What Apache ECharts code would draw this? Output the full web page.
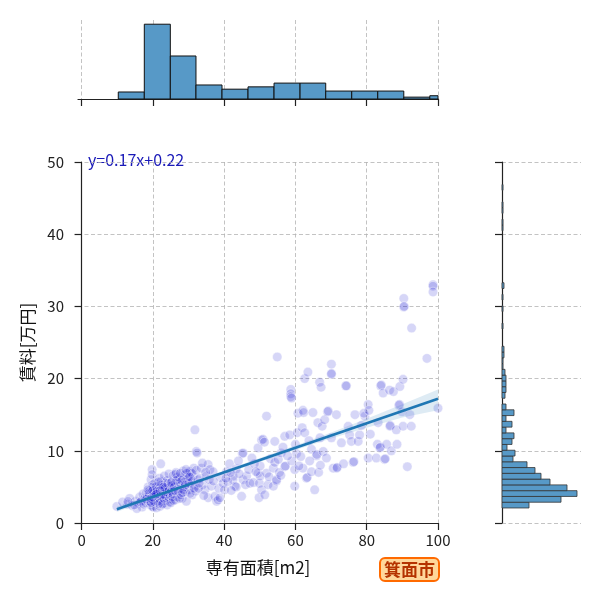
<!DOCTYPE html>
<html lang="ja">
  <head>
    <meta charset="UTF-8" />
    <title>箕面市 専有面積と賃料</title>
    <script src="https://cdn.jsdelivr.net/npm/echarts@6/dist/echarts.min.js"></script>
    <style>
      body {
        margin: 0;
        padding: 0;
        background: #fff;
      }
      #chart {
        width: 600px;
        height: 600px;
      }
    </style>
  </head>
  <body>
    <div id="chart"></div>

    <script>
      // 散布図のデータ [専有面積 m2, 賃料 万円]
      var listings = [
        // 10〜18m2
        [9.9, 2.3], [12.9, 2.6], [13.5, 3.4], [14.2, 2.4], [15.0, 3.0], [16.0, 2.7],
        [16.3, 3.6], [17.0, 2.2], [17.2, 4.0], [15.5, 2.0], [11.5, 2.9], [16.8, 3.1],
        [14.8, 2.5], [16.5, 2.9], [13.0, 3.0], [17.4, 2.6],
        // 18〜25m2
        [17.8, 3.5], [18.0, 2.8], [18.2, 4.2], [18.5, 3.0], [18.7, 5.0], [19.0, 3.8],
        [19.1, 4.5], [19.3, 2.5], [19.5, 6.0], [19.6, 3.7], [19.8, 2.3], [19.8, 7.4],
        [19.8, 6.7], [19.9, 5.3], [20.0, 3.2], [20.0, 4.0], [20.1, 2.2], [20.2, 4.8],
        [20.3, 3.5], [20.5, 5.5], [20.6, 2.9], [20.8, 4.3], [21.0, 2.1], [21.0, 3.7],
        [21.2, 5.0], [21.5, 4.6], [21.6, 3.2], [21.8, 6.2], [22.0, 4.0], [22.0, 2.3],
        [22.2, 8.2], [22.3, 5.8], [22.4, 3.0], [22.5, 4.4], [22.7, 3.6], [22.8, 5.2],
        [23.0, 2.7], [23.0, 4.7], [23.2, 6.5], [23.4, 3.9], [23.5, 5.5], [23.6, 3.1],
        [23.8, 4.6], [24.0, 2.5], [24.0, 5.9], [24.2, 3.7], [24.3, 4.2], [24.5, 6.8],
        [24.6, 3.3], [24.7, 5.1], [24.8, 2.9], [19.2, 3.0], [20.4, 3.9], [21.3, 4.1],
        [21.9, 3.4], [22.6, 4.9], [23.3, 4.3], [24.4, 4.0], [18.4, 3.6], [20.7, 4.6],
        [21.7, 2.7], [23.7, 3.5], [24.1, 4.8],
        [18.1, 3.3], [18.9, 4.1], [19.4, 3.4], [19.7, 4.4], [20.0, 5.0], [20.2, 3.0],
        [20.5, 3.8], [20.9, 5.1], [21.1, 4.4], [21.4, 3.0], [21.8, 4.8], [22.1, 3.7],
        [22.4, 5.3], [22.9, 4.0], [23.1, 3.4], [23.5, 4.9], [23.9, 4.3], [24.2, 5.5],
        [24.6, 4.5], [20.3, 4.2], [21.6, 5.7], [22.7, 2.6], [19.9, 3.6], [24.9, 3.8],
        [20.0, 4.5], [22.0, 4.5], [21.0, 4.0], [23.0, 5.0], [19.5, 2.8], [18.6, 4.6],
        // 25〜32m2
        [25.0, 2.8], [25.2, 4.4], [25.4, 5.8], [25.5, 3.6], [25.7, 6.6], [25.9, 4.9],
        [26.2, 5.5], [26.3, 3.2], [26.5, 7.0], [26.7, 4.1], [26.9, 3.6], [27.0, 6.0],
        [27.3, 4.7], [27.6, 6.2], [27.8, 5.2], [28.0, 4.8], [28.2, 3.4], [28.5, 7.2],
        [28.7, 5.6], [29.0, 6.7], [29.2, 4.3], [29.4, 3.0], [29.6, 5.9], [29.9, 5.8],
        [30.0, 7.1], [30.2, 4.6], [30.4, 7.1], [30.6, 6.0], [30.8, 5.2], [31.0, 3.9],
        [31.3, 6.5], [31.5, 7.6], [31.8, 5.1], [31.8, 12.9], [32.0, 4.4], [26.0, 5.0],
        [27.2, 5.4], [28.4, 6.1], [29.8, 6.4], [30.9, 6.9], [25.6, 4.0], [26.8, 6.4],
        [27.9, 3.9], [28.9, 5.0],
        [25.3, 5.2], [25.8, 3.1], [26.1, 4.5], [26.6, 5.9], [27.1, 4.4], [27.5, 3.4],
        [28.1, 5.9], [28.6, 4.6], [29.1, 5.3], [29.5, 6.9], [30.1, 5.5], [30.5, 4.1],
        [31.1, 5.8], [31.6, 4.8], [26.4, 6.8], [27.7, 6.9], [29.3, 7.4], [25.1, 5.6],
        [28.3, 4.2], [30.3, 6.4],
        // 32〜39m2
        [32.2, 9.9], [32.4, 9.7], [32.2, 7.3], [32.6, 6.0], [33.2, 6.2], [33.6, 7.6],
        [34.0, 5.3], [34.6, 4.6], [35.0, 6.5], [35.5, 8.1], [35.5, 3.5], [36.0, 7.4],
        [36.4, 5.1], [36.9, 7.1], [37.4, 3.7], [37.9, 3.0], [38.3, 3.2], [38.8, 3.5],
        [39.0, 6.3], [33.9, 8.3], [34.8, 7.0], [32.8, 4.8],
        [33.0, 5.5], [35.8, 6.0], [37.0, 5.8], [38.5, 4.8], [34.3, 3.8],
        // 39〜47m2
        [39.7, 5.5], [40.1, 4.6], [40.7, 7.1], [41.5, 8.2], [42.5, 6.5], [42.5, 6.0],
        [43.0, 5.1], [43.4, 7.5], [43.4, 5.0], [44.9, 3.7], [45.1, 9.6], [45.3, 9.7],
        [45.3, 6.0], [46.3, 6.5], [44.0, 8.6], [41.0, 5.7],
        [40.5, 6.2], [42.0, 4.5], [44.2, 6.8], [46.0, 5.3], [41.8, 7.0],
        // 47〜54m2
        [46.9, 7.4], [47.2, 5.5], [48.2, 5.6], [49.5, 10.4], [49.5, 6.9], [49.8, 3.5],
        [49.9, 5.5], [50.1, 6.5], [50.1, 7.9], [50.5, 11.5], [50.5, 4.6], [50.9, 11.6],
        [51.3, 11.2], [51.4, 3.9], [51.9, 14.8], [51.9, 6.9], [52.3, 5.3], [53.0, 8.9],
        [53.8, 7.6], [53.8, 5.1], [48.5, 8.2], [47.8, 9.0], [48.9, 7.1], [52.6, 6.4],
        // 54〜61m2
        [54.2, 11.3], [54.2, 8.4], [54.7, 5.8], [54.7, 6.0], [54.9, 23.0], [55.2, 8.8],
        [55.5, 7.0], [56.0, 9.7], [57.0, 12.0], [57.0, 7.8], [57.2, 7.9], [58.4, 12.2],
        [58.7, 18.5], [58.7, 17.9], [58.7, 17.5], [58.9, 17.3], [59.8, 7.4], [59.8, 5.1],
        [60.0, 10.9], [60.3, 9.6], [60.7, 15.2], [60.5, 12.5], [56.5, 10.5], [59.0, 8.6],
        [55.9, 6.6], [57.8, 9.3],
        // 61〜69m2
        [61.9, 13.2], [62.1, 15.6], [62.3, 15.3], [62.1, 7.6], [62.6, 12.5], [62.6, 20.0],
        [63.1, 6.2], [63.3, 6.3], [63.5, 20.9], [64.5, 10.2], [64.5, 7.1], [64.9, 15.3],
        [65.4, 4.6], [65.9, 9.3], [66.0, 9.5], [66.3, 13.9], [66.8, 19.5], [67.2, 18.8],
        [67.5, 13.4], [67.8, 9.9], [68.2, 14.3], [63.8, 11.4], [66.5, 7.0], [61.5, 9.2],
        [61.0, 7.9], [64.0, 8.6], [66.9, 11.8], [67.0, 8.0],
        // 69〜76m2
        [68.7, 9.0], [69.0, 15.4], [69.2, 15.5], [70.1, 22.0], [70.1, 20.6], [70.1, 20.7],
        [70.1, 11.8], [70.6, 7.6], [71.5, 15.0], [71.6, 7.6], [71.7, 7.7], [72.9, 11.1],
        [74.1, 19.0], [74.3, 19.0], [74.8, 13.4], [75.2, 12.2], [75.7, 11.3], [73.5, 8.2],
        // 76〜83m2
        [76.2, 8.4], [76.4, 8.5], [76.7, 15.0], [77.6, 11.3], [78.0, 12.2], [78.5, 13.5],
        [79.5, 14.8], [79.2, 15.2], [80.4, 16.4], [80.4, 9.0], [80.6, 15.6], [81.0, 12.3],
        [82.7, 9.0], [83.0, 10.9],
        // 83〜90m2
        [83.2, 13.9], [83.7, 10.4], [83.8, 10.5], [83.9, 19.0], [84.1, 19.1], [84.6, 18.0],
        [85.0, 8.8], [85.2, 8.9], [85.6, 10.9], [86.4, 18.4], [86.5, 13.4], [86.6, 13.5],
        [86.9, 10.0], [87.5, 18.2], [88.3, 12.9], [88.5, 10.9], [89.0, 16.3], [89.2, 16.4],
        [89.3, 18.9], [89.9, 15.4], [90.2, 19.9], [90.2, 13.4],
        // 90m2〜
        [90.4, 31.1], [90.4, 29.9], [90.5, 30.0], [91.4, 7.8], [92.1, 15.0], [92.5, 13.4],
        [92.6, 27.0], [96.9, 22.8], [98.6, 33.0], [98.6, 32.8], [98.6, 32.0], [100, 15.9]
      ];

      // 回帰直線 y=0.17x+0.22 と信頼区間
      var regX = [9.9, 100];
      var regY = [1.9, 17.2];
      var ciX = [10, 20, 30, 40, 50, 60, 70, 80, 90, 100];
      var ciLow = [1.55, 3.35, 5.1, 6.8, 8.45, 10.1, 11.7, 13.2, 14.6, 15.6];
      var ciHigh = [2.3, 3.9, 5.55, 7.25, 9.0, 10.75, 12.55, 14.45, 16.45, 18.5];

      // 上側ヒストグラム（専有面積）
      var areaEdges = [10.3, 17.6, 24.9, 32.1, 39.4, 46.7, 54.0, 61.3, 68.5, 75.8, 83.1, 90.4, 97.7, 104.9];
      var areaCounts = [15, 160, 92, 30, 21, 26, 34, 34, 17, 17, 17, 4, 7];

      // 右側ヒストグラム（賃料）
      var rentBinStart = 2.08;
      var rentBinWidth = 0.8;
      var rentCounts = [
        27, 59, 75, 65, 48, 39, 33, 25, 11, 13,
        5, 10, 12, 4, 10, 4, 12, 4, 0, 3,
        4, 4, 4, 3, 1, 1, 2, 2, 0, 0,
        0, 1, 0, 0, 1, 0, 1, 0, 2, 0,
        0, 0, 0, 0, 0, 0, 0, 0, 1, 1,
        0, 1, 1, 0, 0, 1
      ];

      var xTicks = [0, 20, 40, 60, 80, 100];
      var cityName = '箕面市';
      var equation = 'y=0.17x+0.22';

      var font = '"Noto Sans CJK JP", "Noto Sans", sans-serif';
      var barFill = '#5799c7';
      var gridLine = { show: true, lineStyle: { color: '#b4b4b4', width: 0.8, type: [4, 2.5] } };
      var blackLine = { show: true, lineStyle: { color: '#222', width: 1.2 } };

      var areaRows = areaCounts.map(function (c, i) {
        return [areaEdges[i], areaEdges[i + 1], c];
      });
      var rentRows = rentCounts.map(function (c, i) {
        var lo = rentBinStart + i * rentBinWidth;
        return [lo, lo + rentBinWidth, c];
      });
      var ciRows = ciX.map(function (x, i) {
        return [x, ciLow[i], ciHigh[i]];
      });
      var regRows = regX.map(function (x, i) {
        return [x, regY[i]];
      });

      function clipTo(params, shape) {
        return echarts.graphic.clipRectByRect(shape, {
          x: params.coordSys.x,
          y: params.coordSys.y,
          width: params.coordSys.width,
          height: params.coordSys.height
        });
      }

      var chart = echarts.init(document.getElementById('chart'));
      var option = {
        animation: false,
        textStyle: { fontFamily: font },
        title: {
          text: cityName,
          left: 380,
          top: 558,
          padding: [3, 4],
          backgroundColor: '#ffd79a',
          borderColor: '#ff6a00',
          borderWidth: 2,
          borderRadius: 5,
          textStyle: { fontSize: 17, fontWeight: 'bold', color: '#b53300', fontFamily: font }
        },
        graphic: [
          {
            type: 'text',
            left: 88,
            top: 152,
            style: { text: equation, fontSize: 16, fill: '#1a1ab8', fontFamily: font }
          }
        ],
        grid: [
          { left: 78, top: 162, width: 360, height: 361, outerBoundsMode: 'none', containLabel: false },
          { left: 78, top: 20, width: 360, height: 79, outerBoundsMode: 'none', containLabel: false },
          { left: 502, top: 162, width: 79, height: 361, outerBoundsMode: 'none', containLabel: false }
        ],
        xAxis: [
          {
            type: 'value',
            gridIndex: 0,
            min: -1,
            max: 100,
            name: '専有面積[m2]',
            nameLocation: 'middle',
            nameGap: 36,
            nameTextStyle: { fontSize: 17, color: '#111', fontFamily: font },
            axisLine: blackLine,
            axisTick: { show: true, length: 7, lineStyle: { color: '#222', width: 1.2 }, customValues: xTicks },
            axisLabel: { fontSize: 15, color: '#222', margin: 10, customValues: xTicks },
            splitLine: gridLine
          },
          {
            type: 'value',
            gridIndex: 1,
            min: -1,
            max: 100,
            axisLine: blackLine,
            axisTick: { show: true, length: 7, lineStyle: { color: '#222', width: 1.2 }, customValues: xTicks },
            axisLabel: { show: false },
            splitLine: gridLine
          },
          {
            type: 'value',
            gridIndex: 2,
            min: 0,
            max: 79,
            show: false
          }
        ],
        yAxis: [
          {
            type: 'value',
            gridIndex: 0,
            min: 0,
            max: 50,
            interval: 10,
            name: '賃料[万円]',
            nameLocation: 'middle',
            nameRotate: 90,
            nameGap: 38,
            nameTextStyle: { fontSize: 17, color: '#111', fontFamily: font },
            axisLine: blackLine,
            axisTick: { show: true, length: 7, lineStyle: { color: '#222', width: 1.2 } },
            axisLabel: { fontSize: 15, color: '#222', margin: 14 },
            splitLine: gridLine
          },
          {
            type: 'value',
            gridIndex: 1,
            min: 0,
            max: 169,
            show: false
          },
          {
            type: 'value',
            gridIndex: 2,
            min: 0,
            max: 50,
            interval: 10,
            axisLine: blackLine,
            axisTick: { show: true, length: 7, lineStyle: { color: '#222', width: 1.2 } },
            axisLabel: { show: false },
            splitLine: gridLine
          }
        ],
        series: [
          {
            type: 'scatter',
            xAxisIndex: 0,
            yAxisIndex: 0,
            data: listings,
            symbolSize: 9.5,
            clip: true,
            itemStyle: {
              color: 'rgba(0, 0, 205, 0.2)',
              borderColor: 'rgba(255, 255, 255, 0.5)',
              borderWidth: 1
            },
            z: 2
          },
          {
            type: 'custom',
            xAxisIndex: 0,
            yAxisIndex: 0,
            data: ciRows,
            encode: { x: 0, y: [1, 2] },
            renderItem: function (params, api) {
              if (params.dataIndex !== 0) return null;
              var pts = [];
              for (var i = 0; i < ciX.length; i++) pts.push(api.coord([ciX[i], ciLow[i]]));
              for (var j = ciX.length - 1; j >= 0; j--) pts.push(api.coord([ciX[j], ciHigh[j]]));
              return { type: 'polygon', shape: { points: pts }, style: { fill: 'rgba(31, 119, 180, 0.15)' } };
            },
            z: 3
          },
          {
            type: 'line',
            xAxisIndex: 0,
            yAxisIndex: 0,
            data: regRows,
            showSymbol: false,
            lineStyle: { color: '#1f77b4', width: 2.6 },
            z: 4
          },
          {
            type: 'custom',
            xAxisIndex: 1,
            yAxisIndex: 1,
            data: areaRows,
            encode: { x: [0, 1], y: 2 },
            renderItem: function (params, api) {
              var a = api.coord([api.value(0), 0]);
              var b = api.coord([api.value(1), api.value(2)]);
              var shape = clipTo(params, { x: a[0], y: b[1], width: b[0] - a[0], height: a[1] - b[1] });
              return shape && {
                type: 'rect',
                shape: shape,
                style: { fill: barFill, stroke: '#111', lineWidth: 1 }
              };
            },
            z: 2
          },
          {
            type: 'custom',
            xAxisIndex: 2,
            yAxisIndex: 2,
            data: rentRows,
            encode: { y: [0, 1], x: 2 },
            renderItem: function (params, api) {
              if (!api.value(2)) return null;
              var a = api.coord([0, api.value(0)]);
              var b = api.coord([api.value(2), api.value(1)]);
              return {
                type: 'rect',
                shape: { x: a[0], y: b[1], width: b[0] - a[0], height: a[1] - b[1] },
                style: { fill: barFill, stroke: '#333', lineWidth: 0.8 }
              };
            },
            z: 2
          }
        ]
      };
      chart.setOption(option);
    </script>
  </body>
</html>
